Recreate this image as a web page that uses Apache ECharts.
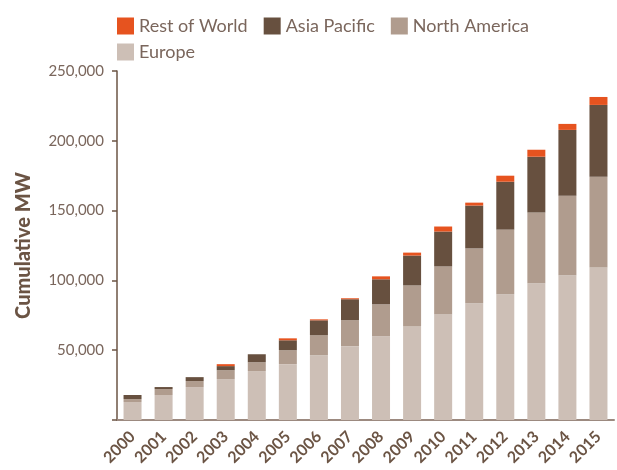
<!DOCTYPE html>
<html>
<head>
<meta charset="utf-8">
<script src="https://cdn.jsdelivr.net/npm/echarts@6/dist/echarts.min.js"></script>
<style>html,body{margin:0;padding:0;background:#fff}#c{width:617px;height:470px}</style>
</head>
<body>
<div id="c"></div>
<script>
const years = ['2000','2001','2002','2003','2004','2005','2006','2007','2008','2009','2010','2011','2012','2013','2014','2015'];
const europe = [12900, 17900, 23600, 29300, 35000, 40000, 46400, 52900, 60000, 67100, 75700, 83600, 90000, 97900, 103600, 109300];
const northAmerica = [2100, 4300, 4300, 6400, 6400, 10000, 14300, 18600, 22900, 29300, 34300, 39300, 46400, 50700, 57100, 65000];
const asiaPacific = [2900, 1400, 2800, 2900, 5700, 7100, 10700, 15000, 17900, 21400, 25000, 30700, 34300, 40000, 47100, 51400];
const restOfWorld = [0, 0, 0, 1400, 0, 1400, 700, 700, 2100, 2100, 3600, 2100, 4300, 5000, 4300, 5700];
const yTicks = [0, 50000, 100000, 150000, 200000, 250000];

const colors = {europe:'#cdbfb6', na:'#b09c8e', ap:'#67503f', row:'#e6531f'};
const textColor = '#7a665c';
const chart = echarts.init(document.getElementById('c'));
const legendText = {color: textColor, fontSize: 18, fontFamily: 'Lato'};
chart.setOption({
  animation: false,
  legend: [
    {data: ['Rest of World','Asia Pacific','North America'], left: 112, top: 12, itemWidth: 17, itemHeight: 17, itemGap: 16, icon: 'rect', textStyle: legendText},
    {data: ['Europe'], left: 112, top: 38, itemWidth: 17, itemHeight: 17, icon: 'rect', textStyle: legendText}
  ],
  grid: {left: 117, right: 3, top: 71, bottom: 50, containLabel: false},
  xAxis: {
    type: 'category', data: years,
    axisLine: {lineStyle: {color: '#9c8a80', width: 2}},
    axisTick: {alignWithLabel: false, length: 6, lineStyle: {color: '#6b5444', width: 1.5}},
    axisLabel: {rotate: 45, interval: 0, margin: 14, color: '#6b5444', fontWeight: 'bold', fontSize: 16, fontFamily: 'Lato'}
  },
  yAxis: {
    type: 'value', min: yTicks[0], max: yTicks[yTicks.length-1], interval: 50000,
    name: 'Cumulative MW', nameLocation: 'middle', nameGap: 83,
    nameTextStyle: {color: '#6b5444', fontSize: 20, fontWeight: 900, fontFamily: 'Lato'},
    axisLine: {show: true, lineStyle: {color: '#6b5444', width: 1.5}},
    axisTick: {show: true, length: 5, lineStyle: {color: '#6b5444', width: 1.5}},
    splitLine: {show: false},
    axisLabel: {margin: 13, color: textColor, fontSize: 15, fontFamily: 'Lato',
      formatter: v => v === 0 ? '' : v.toLocaleString('en-US')}
  },
  series: [
    {name: 'Europe', type: 'bar', stack: 't', data: europe, barWidth: 18, itemStyle: {color: colors.europe}},
    {name: 'North America', type: 'bar', stack: 't', data: northAmerica, barWidth: 18, itemStyle: {color: colors.na}},
    {name: 'Asia Pacific', type: 'bar', stack: 't', data: asiaPacific, barWidth: 18, itemStyle: {color: colors.ap}},
    {name: 'Rest of World', type: 'bar', stack: 't', data: restOfWorld, barWidth: 18, itemStyle: {color: colors.row}}
  ]
});
</script>
</body>
</html>
